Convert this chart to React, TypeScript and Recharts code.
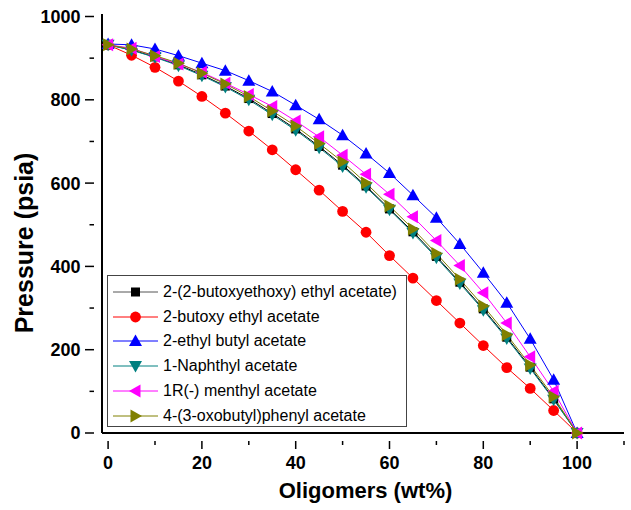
import React from 'react';
import { LineChart, Line, XAxis, YAxis } from 'recharts';

// wt% of oligomers
const xValues = [0, 5, 10, 15, 20, 25, 30, 35, 40, 45, 50, 55, 60, 65, 70, 75, 80, 85, 90, 95, 100];

// pressure (psia) per solvent
const butoxyethoxy = [932, 920, 903, 884, 860, 833, 803, 767, 730, 688, 643, 593, 538, 483, 424, 362, 298, 230, 158, 82, 0];
const butoxyEthyl = [932, 907, 878, 845, 808, 768, 725, 680, 632, 583, 532, 482, 426, 372, 318, 264, 210, 157, 107, 54, 0];
const ethylButyl = [934, 932, 922, 906, 888, 870, 846, 820, 787, 753, 715, 671, 624, 571, 517, 454, 385, 313, 226, 128, 0];
const naphthyl = [932, 919, 902, 882, 858, 831, 800, 764, 727, 685, 640, 590, 536, 480, 421, 359, 295, 227, 155, 80, 0];
const menthyl = [932, 924, 904, 886, 866, 840, 813, 784, 749, 711, 667, 621, 573, 519, 462, 402, 337, 264, 183, 100, 0];
const oxobutyl = [932, 922, 906, 888, 864, 838, 808, 773, 737, 695, 651, 600, 545, 490, 431, 369, 305, 236, 163, 87, 0];

const xTicks = [0, 10, 20, 30, 40, 50, 60, 70, 80, 90, 100, 110];
const yTicks = [0, 100, 200, 300, 400, 500, 600, 700, 800, 900, 1000];

const series = [
  { key: 's1', name: '2-(2-butoxyethoxy) ethyl acetate)', values: butoxyethoxy, color: '#000000', legendLine: '#555555', shape: 'square' },
  { key: 's2', name: '2-butoxy ethyl acetate', values: butoxyEthyl, color: '#FF0000', legendLine: '#FF0000', shape: 'circle' },
  { key: 's3', name: '2-ethyl butyl acetate', values: ethylButyl, color: '#0000FF', legendLine: '#0000FF', shape: 'up' },
  { key: 's4', name: '1-Naphthyl acetate', values: naphthyl, color: '#008080', legendLine: '#008080', shape: 'down' },
  { key: 's5', name: '1R(-) menthyl acetate', values: menthyl, color: '#FF00FF', legendLine: '#FF00FF', shape: 'left' },
  { key: 's6', name: '4-(3-oxobutyl)phenyl acetate', values: oxobutyl, color: '#808000', legendLine: '#808000', shape: 'right' },
];

const data = xValues.map((x, i) => {
  const row: any = { x };
  series.forEach(s => { row[s.key] = s.values[i]; });
  return row;
});

const FONT = '"Liberation Sans", Arial, sans-serif';

const markerPath = (shape: string, cx: number, cy: number, color: string, key?: any) => {
  const a = 6.5;
  switch (shape) {
    case 'square':
      return <rect key={key} x={cx - 4.5} y={cy - 4.5} width={9} height={9} fill={color} />;
    case 'circle':
      return <circle key={key} cx={cx} cy={cy} r={5.4} fill={color} />;
    case 'up':
      return <polygon key={key} points={`${cx},${cy - a} ${cx - a},${cy + 5} ${cx + a},${cy + 5}`} fill={color} />;
    case 'down':
      return <polygon key={key} points={`${cx},${cy + a} ${cx - a},${cy - 5} ${cx + a},${cy - 5}`} fill={color} />;
    case 'left':
      return <polygon key={key} points={`${cx - a},${cy} ${cx + 5},${cy - a} ${cx + 5},${cy + a}`} fill={color} />;
    default:
      return <polygon key={key} points={`${cx + a},${cy} ${cx - 5},${cy - a} ${cx - 5},${cy + a}`} fill={color} />;
  }
};

const XTick = (props: any) => {
  const { x, y, payload } = props;
  const major = payload.value % 20 === 0;
  return (
    <g>
      <line x1={x} y1={y} x2={x} y2={y + (major ? 8 : 4)} stroke="#000" strokeWidth={1.5} />
      {major && payload.value <= 100 && (
        <text x={x} y={y + 28} textAnchor="middle" fontFamily={FONT} fontWeight="bold" fontSize={18} fill="#000">
          {payload.value}
        </text>
      )}
    </g>
  );
};

const YTick = (props: any) => {
  const { x, y, payload } = props;
  const major = payload.value % 200 === 0;
  return (
    <g>
      <line x1={x} y1={y} x2={x - (major ? 9 : 4.5)} y2={y} stroke="#000" strokeWidth={1.5} />
      {major && (
        <text x={x - 13.5} y={y} dy="0.36em" textAnchor="end" fontFamily={FONT} fontWeight="bold" fontSize={18} fill="#000">
          {payload.value}
        </text>
      )}
    </g>
  );
};

// legend drawn over the plot, lower left corner
const LegendBox = () => (
  <div
    style={{
      position: 'absolute',
      left: 107,
      top: 275,
      width: 300,
      height: 152,
      border: '1.5px solid #444',
      background: '#fff',
      padding: '3.5px 0 2px 4px',
      boxSizing: 'border-box',
      fontFamily: FONT,
      fontSize: 16,
      color: '#000',
    }}
  >
    {series.map(s => (
      <div key={s.key} style={{ display: 'flex', alignItems: 'center', height: 24.8 }}>
        <svg width={51} height={16} style={{ flex: 'none' }}>
          <line x1={1} y1={8} x2={46} y2={8} stroke={s.legendLine} strokeWidth={1} />
          {markerPath(s.shape, 23.5, 8, s.color)}
        </svg>
        <span style={{ whiteSpace: 'nowrap' }}>{s.name}</span>
      </div>
    ))}
  </div>
);

export default function App() {
  return (
    <div style={{ position: 'absolute', left: 0, top: 0, width: 631, height: 510, background: '#fff' }}>
      <LineChart width={631} height={510} data={data} margin={{ top: 14, right: 7, bottom: 0, left: 0 }}>
        <XAxis
          xAxisId="bottom"
          dataKey="x"
          type="number"
          domain={[-1.3, 110]}
          ticks={xTicks}
          interval={0}
          tick={<XTick />}
          tickLine={false}
          axisLine={{ stroke: '#000', strokeWidth: 2 }}
          height={77}
          label={{
            content: () => (
              <text x={365.5} y={498} textAnchor="middle" fontFamily={FONT} fontWeight="bold" fontSize={22} fill="#000">
                Oligomers (wt%)
              </text>
            ),
          }}
        />
        <XAxis xAxisId="top" dataKey="x" type="number" domain={[-1.3, 110]} orientation="top" height={0} tick={false} tickLine={false} axisLine={{ stroke: '#000', strokeWidth: 2 }} />
        <YAxis
          yAxisId="left"
          type="number"
          domain={[0, 1006]}
          ticks={yTicks}
          interval={0}
          tick={<YTick />}
          tickLine={false}
          axisLine={{ stroke: '#000', strokeWidth: 2 }}
          width={102}
          label={{
            content: () => (
              <text x={33} y={243} transform="rotate(-90, 33, 243)" textAnchor="middle" fontFamily={FONT} fontWeight="bold" fontSize={25} fill="#000">
                Pressure (psia)
              </text>
            ),
          }}
        />
        <YAxis yAxisId="right" orientation="right" type="number" domain={[0, 1006]} width={0} tick={false} tickLine={false} axisLine={{ stroke: '#000', strokeWidth: 2 }} />
        {series.map(s => (
          <Line
            key={s.key}
            xAxisId="bottom"
            yAxisId="left"
            type="linear"
            dataKey={s.key}
            name={s.name}
            stroke={s.color}
            strokeWidth={1}
            isAnimationActive={false}
            dot={(p: any) => markerPath(s.shape, p.cx, p.cy, s.color, `${s.key}-${p.index}`)}
            activeDot={false}
          />
        ))}
      </LineChart>
      <LegendBox />
    </div>
  );
}
